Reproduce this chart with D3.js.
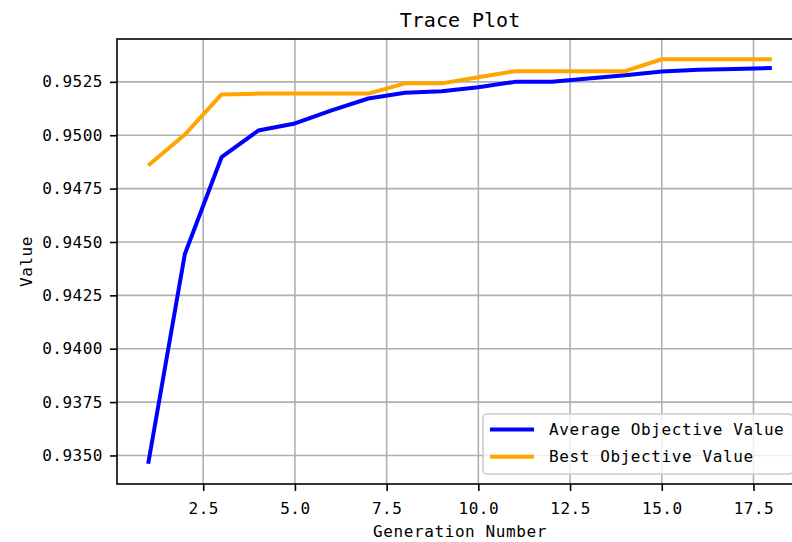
<!DOCTYPE html>
<html>
<head>
    <script src="https://d3js.org/d3.v7.min.js"></script>
    <style>
        body { margin: 0; background: #fff; }
        text { font-family: "DejaVu Sans Mono", "Liberation Mono", monospace; fill: #000; }
    </style>
</head>
<body>
    <svg width="792" height="542"></svg>
    <script>

        // data
        var generations = [1, 2, 3, 4, 5, 6, 7, 8, 9, 10, 11, 12, 13, 14, 15, 16, 17, 18];
        var averageValues = [0.93461, 0.94444, 0.94897, 0.95022, 0.95055, 0.95116, 0.95172, 0.95199, 0.95206,
                             0.95225, 0.95250, 0.95251, 0.95266, 0.95281, 0.95298, 0.95307, 0.95310, 0.95315];
        var bestValues = [0.94858, 0.95003, 0.95191, 0.95195, 0.95195, 0.95195, 0.95195, 0.95243, 0.95243,
                          0.95272, 0.95300, 0.95300, 0.95300, 0.95300, 0.95356, 0.95356, 0.95356, 0.95356];
        var xTicks = [2.5, 5.0, 7.5, 10.0, 12.5, 15.0, 17.5];
        var yTicks = [0.9350, 0.9375, 0.9400, 0.9425, 0.9450, 0.9475, 0.9500, 0.9525];
        var seriesNames = ["Average Objective Value", "Best Objective Value"];
        var seriesColors = ["#0000ff", "#ffa500"];

        var svg = d3.select("svg");

        // plot area (right edge runs off the picture, like the original)
        var plotLeft = 117, plotRight = 803, plotTop = 39, plotBottom = 484;

        // matplotlib style 5% margins
        var xr = d3.extent(generations);
        var xpad = (xr[1] - xr[0]) * 0.05;
        var x = d3.scaleLinear()
                  .domain([xr[0] - xpad, xr[1] + xpad])
                  .range([plotLeft, plotRight]);

        var yr = d3.extent(averageValues.concat(bestValues));
        var ypad = (yr[1] - yr[0]) * 0.05;
        var y = d3.scaleLinear()
                  .domain([yr[0] - ypad, yr[1] + ypad])
                  .range([plotBottom, plotTop]);

        // grid
        var grid = svg.append("g");
        grid.selectAll(".gx").data(xTicks).enter().append("line")
            .attr("x1", d => x(d)).attr("x2", d => x(d))
            .attr("y1", plotTop).attr("y2", plotBottom)
            .attr("stroke", "#b0b0b0").attr("stroke-width", 1.6);
        grid.selectAll(".gy").data(yTicks).enter().append("line")
            .attr("x1", plotLeft).attr("x2", plotRight)
            .attr("y1", d => y(d)).attr("y2", d => y(d))
            .attr("stroke", "#b0b0b0").attr("stroke-width", 1.6);

        // lines
        var line = d3.line()
                     .x(function(d) { return x(d[0]); })
                     .y(function(d) { return y(d[1]); });

        var series = [averageValues, bestValues];
        series.forEach(function(vals, i) {
            svg.append("path")
               .attr("d", line(d3.zip(generations, vals)))
               .attr("fill", "none")
               .attr("stroke", seriesColors[i])
               .attr("stroke-width", 4)
               .attr("stroke-linejoin", "round");
        });

        // axes
        var xAxis = d3.axisBottom(x).tickValues(xTicks).tickFormat(d3.format(".1f"))
                      .tickSize(7).tickPadding(7);
        var yAxis = d3.axisLeft(y).tickValues(yTicks).tickFormat(d3.format(".4f"))
                      .tickSize(7).tickPadding(7);

        var gx = svg.append("g")
                    .attr("transform", "translate(0," + plotBottom + ")")
                    .call(xAxis);
        var gy = svg.append("g")
                    .attr("transform", "translate(" + plotLeft + ",0)")
                    .call(yAxis);

        [gx, gy].forEach(function(g) {
            g.select(".domain").remove();
            g.selectAll(".tick line").attr("stroke", "#000").attr("stroke-width", 1.6);
            g.selectAll(".tick text")
             .style("font-size", "16px")
             .style("letter-spacing", "0.5px")
             .attr("fill", "#000");
        });
        gx.selectAll(".tick text").attr("dy", "1.0em");

        // frame
        svg.append("rect")
           .attr("x", plotLeft).attr("y", plotTop)
           .attr("width", plotRight - plotLeft).attr("height", plotBottom - plotTop)
           .attr("fill", "none")
           .attr("stroke", "#000")
           .attr("stroke-width", 1.6);

        // titles
        svg.append("text")
           .attr("x", (plotLeft + plotRight) / 2).attr("y", 27)
           .attr("text-anchor", "middle")
           .style("font-size", "20px")
           .text("Trace Plot");

        svg.append("text")
           .attr("x", (plotLeft + plotRight) / 2).attr("y", 537)
           .attr("text-anchor", "middle")
           .style("font-size", "16px")
           .style("letter-spacing", "0.6px")
           .text("Generation Number");

        svg.append("text")
           .attr("transform", "translate(32," + (plotTop + plotBottom) / 2 + ") rotate(-90)")
           .attr("text-anchor", "middle")
           .style("font-size", "16px")
           .style("letter-spacing", "0.6px")
           .text("Value");

        // legend, lower right
        var legend = svg.append("g");
        legend.append("rect")
              .attr("x", 483).attr("y", 414)
              .attr("width", 310).attr("height", 60)
              .attr("rx", 4)
              .attr("fill", "#fff").attr("fill-opacity", 0.8)
              .attr("stroke", "#cccccc").attr("stroke-width", 1.6);

        seriesNames.forEach(function(name, i) {
            var ly = 429.5 + i * 27.3;
            legend.append("line")
                  .attr("x1", 490).attr("x2", 534)
                  .attr("y1", ly).attr("y2", ly)
                  .attr("stroke", seriesColors[i]).attr("stroke-width", 4);
            legend.append("text")
                  .attr("x", 549).attr("y", ly)
                  .attr("dy", "0.35em")
                  .style("font-size", "16px")
                  .style("letter-spacing", "0.6px")
                  .text(name);
        });

    </script>
</body>
</html>
